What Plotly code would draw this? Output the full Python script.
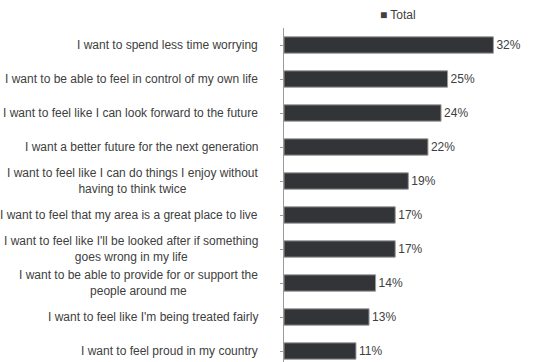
import plotly.graph_objects as go

categories = [
    "I want to spend less time worrying",
    "I want to be able to feel in control of my own life",
    "I want to feel like I can look forward to the future",
    "I want a better future for the next generation",
    "I want to feel like I can do things I enjoy without<br>having to think twice",
    "I want to feel that my area is a great place to live",
    "I want to feel like I'll be looked after if something<br>goes wrong in my life",
    "I want to be able to provide for or support the<br>people around me",
    "I want to feel like I'm being treated fairly",
    "I want to feel proud in my country",
]
values = [32, 25, 24, 22, 19, 17, 17, 14, 13, 11]
series_name = "Total"

W, H = 549, 362
left = 284
top = 28

fig = go.Figure()
fig.add_trace(go.Bar(
    x=values,
    y=list(range(len(categories))),
    orientation="h",
    name=series_name,
    marker=dict(color="#323437", line=dict(color="#9a9a9a", width=1)),
    text=[f"{v}%" for v in values],
    textposition="outside",
    textfont=dict(family="Liberation Sans, Arial", size=12, color="#404040"),
    cliponaxis=False,
    width=0.48,
    showlegend=False,
))

for i, c in enumerate(categories):
    fig.add_annotation(
        x=0, xref="paper", xshift=-24,
        y=i, yref="y",
        text=c, showarrow=False,
        xanchor="right", yanchor="middle", align="center",
        font=dict(family="Liberation Sans, Arial", size=12, color="#404040"),
    )

fig.add_annotation(
    x=0.43, xref="paper", y=1, yref="paper", yshift=13,
    text="■ " + series_name, showarrow=False,
    xanchor="center", yanchor="middle",
    font=dict(family="Liberation Sans, Arial", size=12, color="#404040"),
)

band = 34.0
ymax = (H - top) / band - 0.5

fig.update_layout(
    width=W, height=H,
    margin=dict(l=left, r=0, t=top, b=0),
    paper_bgcolor="white", plot_bgcolor="white",
    xaxis=dict(range=[0, 40.5], visible=False),
    yaxis=dict(
        range=[ymax, -0.5],
        tickmode="array",
        tickvals=list(range(len(categories))),
        ticktext=[""] * len(categories),
        tickson="boundaries",
        ticks="outside", ticklen=3, tickcolor="#9a9a9a",
        showline=True, linecolor="#9a9a9a", linewidth=1,
        showgrid=False, zeroline=False,
    ),
)

fig.write_html("out.html")
